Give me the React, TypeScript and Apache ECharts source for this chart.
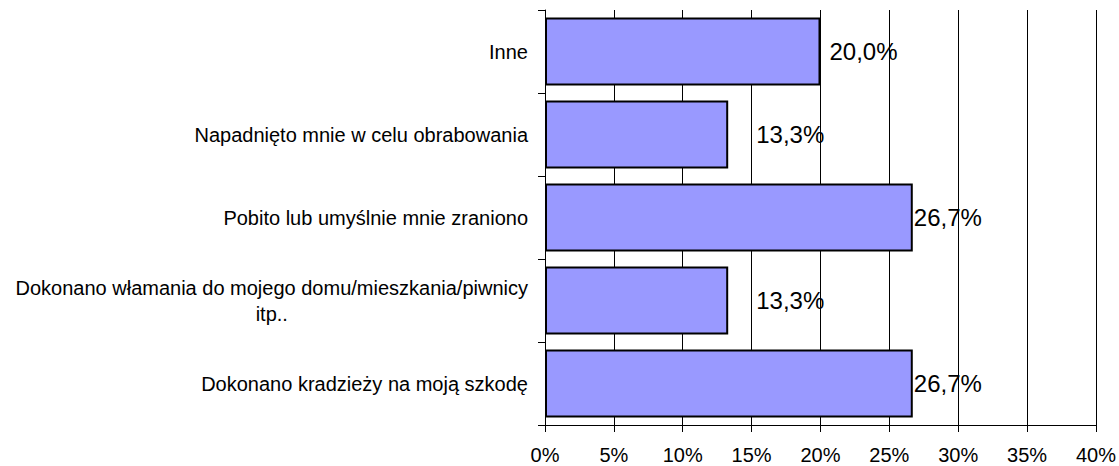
import React, { useEffect, useRef } from "react";
import * as echarts from "echarts";

const categories = [
  "Inne",
  "Napadnięto mnie w celu obrabowania",
  "Pobito lub umyślnie mnie zraniono",
  "Dokonano włamania do mojego domu/mieszkania/piwnicy\nitp..",
  "Dokonano kradzieży na moją szkodę",
];
const values = [20.0, 13.3, 26.7, 13.3, 26.7];
const xTicks = [0, 5, 10, 15, 20, 25, 30, 35, 40];

const FONT = "'Liberation Sans', Arial, sans-serif";
// label gap to the right of each bar (style only)
const labelGap = [9, 28, 1, 28, 1];

export default function App() {
  const ref = useRef<HTMLDivElement>(null);
  useEffect(() => {
    if (!ref.current) return;
    const chart = echarts.init(ref.current, null, { renderer: "svg" });
    chart.setOption({
      animation: false,
      backgroundColor: "#ffffff",
      grid: { left: 545, right: 21, top: 10, bottom: 41, containLabel: false },
      xAxis: {
        type: "value",
        min: xTicks[0],
        max: xTicks[xTicks.length - 1],
        interval: xTicks[1] - xTicks[0],
        axisLine: { show: true, lineStyle: { color: "#000", width: 1 } },
        axisTick: { show: true, length: 7, lineStyle: { color: "#000" } },
        splitLine: { show: true, lineStyle: { color: "#000", width: 1 } },
        axisLabel: {
          formatter: "{value}%",
          fontSize: 20,
          fontFamily: FONT,
          color: "#000",
          margin: 20,
        },
      },
      yAxis: {
        type: "category",
        inverse: true,
        data: categories,
        axisLine: { show: true, lineStyle: { color: "#000", width: 1 } },
        axisTick: { show: true, length: 7, alignWithLabel: false, lineStyle: { color: "#000" } },
        splitLine: { show: false },
        axisLabel: {
          fontSize: 20,
          fontFamily: FONT,
          color: "#000",
          margin: 17,
          lineHeight: 26,
          formatter: (v: string) => {
            const parts = v.split("\n");
            if (parts.length === 1) return v;
            return `{a|${parts[0]}}\n{c|${parts[1]}}`;
          },
          rich: {
            a: { fontSize: 20, fontFamily: FONT, color: "#000", lineHeight: 26 },
            c: { fontSize: 20, fontFamily: FONT, color: "#000", lineHeight: 26, align: "center" },
          },
        },
      },
      series: [
        {
          type: "bar",
          barCategoryGap: "18%",
          data: values.map((v, i) => ({
            value: v,
            label: { distance: labelGap[i] },
          })),
          itemStyle: {
            color: "#9999FF",
            borderColor: "#000",
            borderWidth: 2,
          },
          label: {
            show: true,
            position: "right",
            fontSize: 24,
            fontFamily: FONT,
            color: "#000",
            formatter: (p: any) => p.value.toFixed(1).replace(".", ",") + "%",
          },
        },
      ],
    });
    return () => chart.dispose();
  }, []);
  return (
    <div
      ref={ref}
      style={{ position: "fixed", left: 0, top: 0, width: 1119, height: 466, background: "#fff" }}
    />
  );
}
